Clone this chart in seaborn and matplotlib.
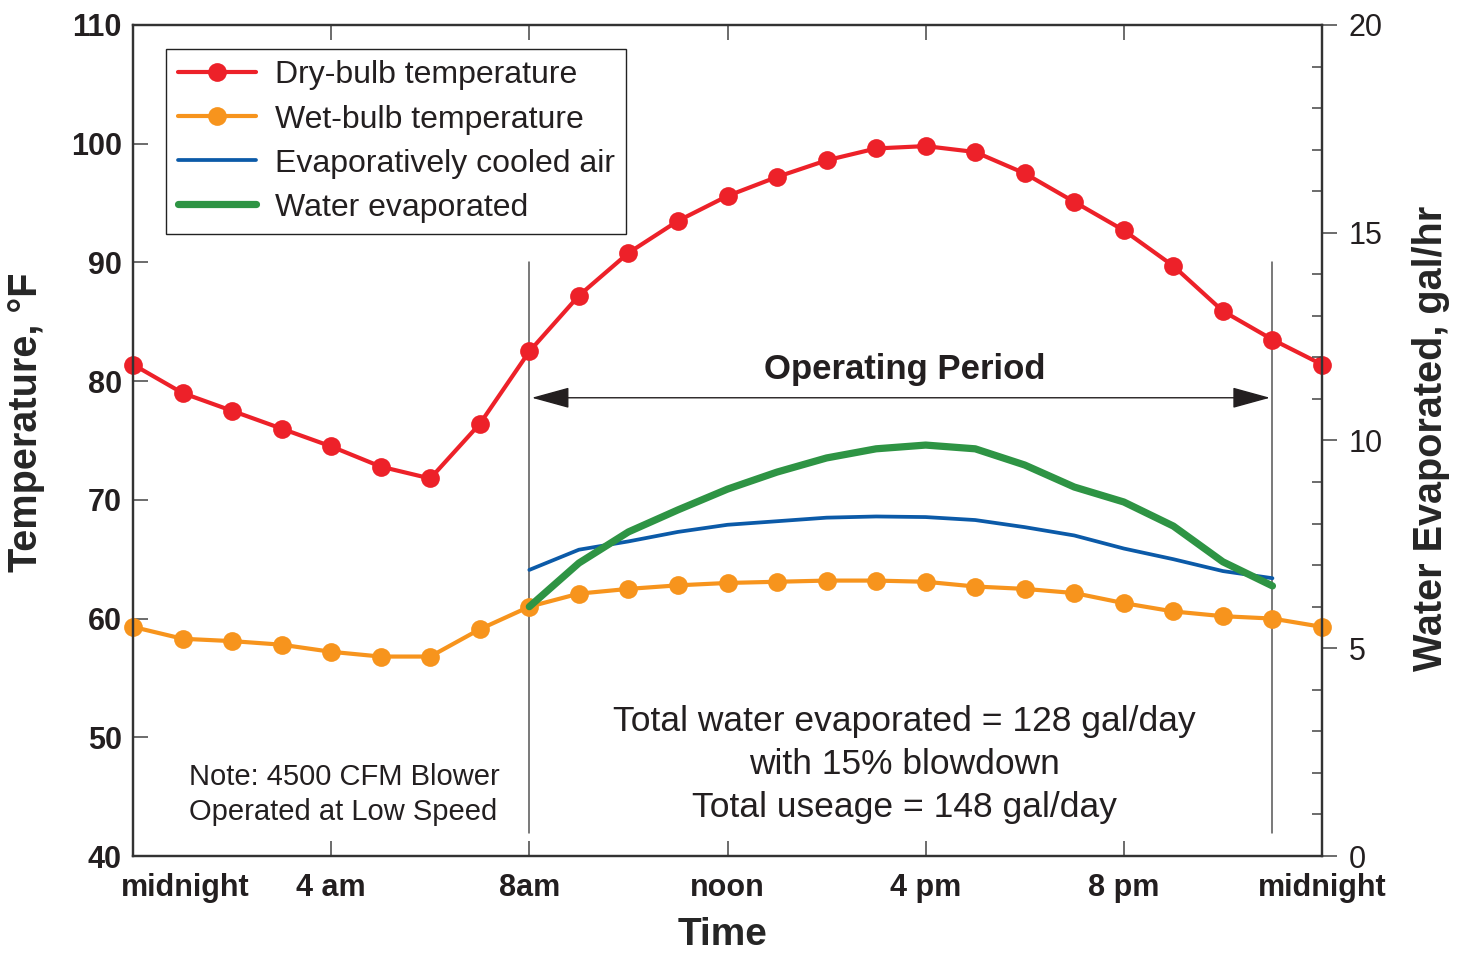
import matplotlib
matplotlib.use("Agg")
import matplotlib.pyplot as plt
import matplotlib.transforms as mtransforms
from matplotlib.ticker import MultipleLocator, FixedLocator
import numpy as np
import pandas as pd
import seaborn as sns

# ---------------- data ----------------
hours = list(range(25))
dry_bulb = [81.4, 79.0, 77.5, 76.0, 74.5, 72.8, 71.8, 76.4, 82.5, 87.2, 90.8, 93.5, 95.6,
            97.2, 98.6, 99.6, 99.8, 99.3, 97.5, 95.1, 92.7, 89.7, 85.9, 83.5, 81.4]
wet_bulb = [59.3, 58.3, 58.1, 57.8, 57.2, 56.8, 56.8, 59.1, 61.0, 62.1, 62.5, 62.8, 63.0,
            63.1, 63.2, 63.2, 63.1, 62.7, 62.5, 62.15, 61.3, 60.6, 60.2, 60.0, 59.3]
op_hours = list(range(8, 24))
cooled_air = [64.1, 65.8, 66.5, 67.3, 67.9, 68.2, 68.5, 68.6, 68.55, 68.3, 67.7, 67.0,
              65.9, 65.0, 64.0, 63.4]
water_evap = [6.0, 7.05, 7.8, 8.33, 8.83, 9.24, 9.58, 9.8, 9.89, 9.8, 9.41, 8.88,
              8.52, 7.94, 7.08, 6.5]

x_ticks = [0, 4, 8, 12, 16, 20, 24]
x_tick_labels = ["midnight", "4 am", "8am", "noon", "4 pm", "8 pm", "midnight"]
series_names = ["Dry-bulb temperature", "Wet-bulb temperature",
                "Evaporatively cooled air", "Water evaporated"]
op_start, op_end = 8, 23

RED = "#ED2129"
ORANGE = "#F7941D"
BLUE = "#0B5AA8"
GREEN = "#2E9444"
DARK = "#231F20"

sns.set_theme(style="ticks")
plt.rcParams["font.family"] = ["Liberation Sans", "DejaVu Sans"]
plt.rcParams["axes.edgecolor"] = "#333333"
plt.rcParams["text.color"] = DARK

df_all = pd.DataFrame({"hour": hours, "dry": dry_bulb, "wet": wet_bulb})
df_op = pd.DataFrame({"hour": op_hours, "cooled": cooled_air, "water": water_evap})

fig = plt.figure(figsize=(14.63, 9.56), dpi=100)
ax = fig.add_axes([133 / 1463, 1 - 856 / 956, (1322 - 133) / 1463, (856 - 25) / 956])
ax2 = ax.twinx()

sns.lineplot(data=df_all, x="hour", y="dry", ax=ax, color=RED, linewidth=3.0,
             marker="o", markersize=13.5, markeredgewidth=0, label=series_names[0],
             legend=False)
sns.lineplot(data=df_all, x="hour", y="wet", ax=ax, color=ORANGE, linewidth=3.0,
             marker="o", markersize=13.5, markeredgewidth=0, label=series_names[1],
             legend=False)
sns.lineplot(data=df_op, x="hour", y="cooled", ax=ax, color=BLUE, linewidth=2.7,
             label=series_names[2], legend=False)
sns.lineplot(data=df_op, x="hour", y="water", ax=ax2, color=GREEN, linewidth=5.2,
             label=series_names[3], legend=False)
for a in (ax, ax2):
    for ln in a.lines:
        ln.set_clip_on(False)

ax.set_xlim(0, 24)
ax.set_ylim(40, 110)
ax2.set_ylim(0, 20)

# ticks
ax.xaxis.set_major_locator(FixedLocator(x_ticks))
ax.set_xticklabels(x_tick_labels)
ax.yaxis.set_major_locator(MultipleLocator(10))
ax.tick_params(axis="both", which="major", direction="in", length=11, width=1.1,
               color="#444444", labelsize=22, labelcolor=DARK, top=True, pad=12)
ax.tick_params(axis="y", pad=8)
for lab in ax.get_xticklabels() + ax.get_yticklabels():
    lab.set_fontweight("bold")
# shift the first "midnight" label right
first = ax.get_xticklabels()[0]
first.set_transform(first.get_transform() + mtransforms.ScaledTranslation(0.52, 0, fig.dpi_scale_trans))

ax2.yaxis.set_major_locator(MultipleLocator(5))
ax2.yaxis.set_minor_locator(MultipleLocator(1))
ax2.tick_params(axis="y", which="major", direction="out", length=11, width=1.1,
                color="#444444", labelsize=22, labelcolor=DARK, pad=8)
ax2.tick_params(axis="y", which="minor", direction="in", length=7, width=1.1,
                color="#444444")

for a in (ax, ax2):
    for s in a.spines.values():
        s.set_linewidth(1.6)
        s.set_color("#333333")

ax.set_xlabel("Time", fontsize=28, fontweight="bold")
ax.set_ylabel("Temperature, °F", fontsize=28.5, fontweight="bold")
ax2.set_ylabel("Water Evaporated, gal/hr", fontsize=28.5, fontweight="bold")
ax.yaxis.set_label_coords((45 - 133) / 1189, 0.522)
ax2.yaxis.set_label_coords((1412 - 133) / 1189, 0.503)
ax.xaxis.set_label_coords(0.496, -0.074)

# operating period markers
for xv in (op_start, op_end):
    ax.plot([xv, xv], [41.9, 90.0], color="#555555", linewidth=1.1, zorder=1)
ax.annotate("", xy=(op_start + 0.05, 78.6), xytext=(op_end - 0.05, 78.6),
            arrowprops=dict(arrowstyle="<|-|>,head_length=2.0,head_width=0.55",
                            color=DARK, lw=1.0, shrinkA=0, shrinkB=0))
ax.text(15.58, 81.0, "Operating Period", fontsize=25, fontweight="bold",
        ha="center", va="center", color=DARK)

ax.text(15.58, 47.7,
        "Total water evaporated = 128 gal/day\nwith 15% blowdown\nTotal useage = 148 gal/day",
        fontsize=25.5, ha="center", va="center", multialignment="center",
        linespacing=1.38, color=DARK)
ax.text(1.13, 45.2, "Note: 4500 CFM Blower\nOperated at Low Speed",
        fontsize=21, ha="left", va="center", linespacing=1.32, color=DARK)

# legend
h1, l1 = ax.get_legend_handles_labels()
h2, l2 = ax2.get_legend_handles_labels()
leg = ax2.legend(h1 + h2, l1 + l2, loc="upper left",
                 bbox_to_anchor=((166 - 133) / 1189, 1 - (49 - 25) / 831),
                 borderaxespad=0, fontsize=23, frameon=True, fancybox=False,
                 edgecolor="#222222", framealpha=1, handlelength=2.45,
                 handletextpad=0.6, labelspacing=0.44, borderpad=0.36)
leg.get_frame().set_linewidth(1.0)

fig.savefig("out.png", dpi=100)
